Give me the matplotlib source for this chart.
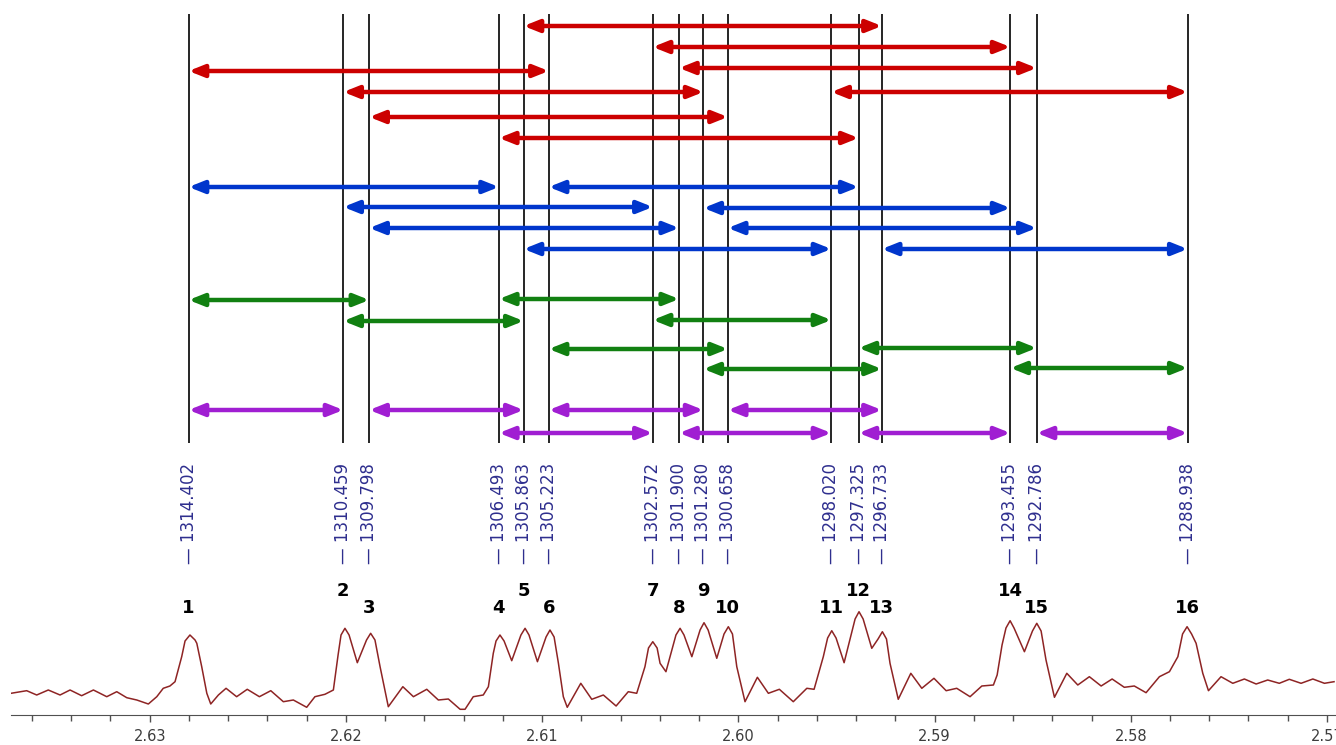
import numpy as np
import matplotlib.pyplot as plt
from matplotlib.ticker import MultipleLocator, FormatStrFormatter

# line positions (Hz) of the 16 transitions, 500 MHz spectrometer
peak_hz = [1314.402, 1310.459, 1309.798, 1306.493, 1305.863, 1305.223,
           1302.572, 1301.900, 1301.280, 1300.658, 1298.020, 1297.325,
           1296.733, 1293.455, 1292.786, 1288.938]
spec_mhz = 500.15
upper_labels = [2, 5, 7, 9, 12, 14]

# splitting arrows as (from peak, to peak), one list per coupling
red_pairs = [(5, 13), (7, 14), (8, 15), (1, 6), (2, 9), (11, 16), (3, 10), (4, 12)]
blue_pairs = [(1, 4), (6, 12), (2, 7), (9, 14), (3, 8), (10, 15), (5, 11), (13, 16)]
green_pairs = [(1, 3), (4, 8), (2, 5), (7, 11), (6, 10), (12, 15), (9, 13), (14, 16)]
purple_pairs = [(1, 2), (3, 5), (6, 9), (10, 13), (4, 7), (8, 11), (12, 14), (15, 16)]

# spectrum trace (ppm, intensity)
spec_ppm = [
    2.63707, 2.63627, 2.63576, 2.63517, 2.63457, 2.63406, 2.63347, 2.63287, 2.63219, 2.63168,
    2.63117, 2.63066, 2.63007, 2.62964, 2.62931, 2.62897, 2.62871, 2.62837, 2.62820, 2.62795,
    2.62769, 2.62760, 2.62735, 2.62709, 2.62689, 2.62650, 2.62611, 2.62557, 2.62503, 2.62441,
    2.62383, 2.62319, 2.62268, 2.62200, 2.62158, 2.62107, 2.62064, 2.62040, 2.62025, 2.62005,
    2.61984, 2.61942, 2.61895, 2.61874, 2.61852, 2.61826, 2.61784, 2.61710, 2.61656, 2.61588,
    2.61529, 2.61478, 2.61418, 2.61393, 2.61351, 2.61300, 2.61274, 2.61249, 2.61235, 2.61215,
    2.61194, 2.61155, 2.61108, 2.61087, 2.61067, 2.61024, 2.60980, 2.60960, 2.60939, 2.60917,
    2.60892, 2.60872, 2.60803, 2.60747, 2.60688, 2.60623, 2.60561, 2.60518, 2.60476, 2.60458,
    2.60436, 2.60414, 2.60399, 2.60369, 2.60318, 2.60297, 2.60277, 2.60237, 2.60195, 2.60175,
    2.60154, 2.60110, 2.60073, 2.60051, 2.60030, 2.60008, 2.59966, 2.59903, 2.59847, 2.59791,
    2.59720, 2.59651, 2.59614, 2.59567, 2.59545, 2.59524, 2.59502, 2.59461, 2.59405, 2.59385,
    2.59364, 2.59320, 2.59288, 2.59266, 2.59245, 2.59227, 2.59185, 2.59121, 2.59065, 2.59003,
    2.58941, 2.58887, 2.58819, 2.58759, 2.58700, 2.58681, 2.58656, 2.58636, 2.58615, 2.58595,
    2.58542, 2.58501, 2.58479, 2.58457, 2.58432, 2.58389, 2.58326, 2.58270, 2.58211, 2.58151,
    2.58095, 2.58033, 2.57982, 2.57922, 2.57854, 2.57803, 2.57760, 2.57736, 2.57713, 2.57690,
    2.57667, 2.57633, 2.57604, 2.57540, 2.57480, 2.57421, 2.57361, 2.57302, 2.57243, 2.57192,
    2.57132, 2.57072, 2.57013, 2.56964]
spec_int = [
    21.7, 24.3, 20, 25, 20, 25, 19.3, 25, 18.3, 23.3,
    17.3, 15, 11, 18.3, 26.7, 29, 33.3, 58.3, 74, 80,
    75, 71.7, 48.3, 21.7, 11, 20, 26.7, 18.3, 25.7, 18.3,
    24.3, 13.3, 15, 7.7, 18.3, 20.7, 25, 60, 80, 86.7,
    80, 52.3, 75, 81.7, 75, 48.3, 8.3, 28.3, 18.3, 25.7,
    15, 16, 5.7, 5.7, 18.3, 20, 28.3, 61.7, 74, 80,
    74, 54.3, 80, 86.7, 80, 53.3, 78, 85, 78, 51.7,
    18.3, 7.7, 31.7, 15.7, 20, 9, 23.3, 21.7, 48.3, 67,
    73.3, 67, 51.7, 43.3, 80, 86.7, 80, 58.3, 85, 92.3,
    85, 56.7, 81, 88.3, 81, 48.3, 13.3, 37.7, 21.7, 25.7,
    13.3, 26.7, 25.7, 58.3, 77, 84.3, 77, 52.3, 96, 103.3,
    96, 66.7, 76, 83.3, 76, 51.7, 15.7, 41.7, 26.7, 36.7,
    24.3, 26.7, 18.3, 29, 30, 40, 70, 87, 94.3, 87,
    63.3, 84, 91.7, 84, 55, 17.7, 41.7, 30, 38.3, 29,
    36, 27.7, 29, 22.3, 38.3, 43.3, 58.3, 81, 88.3, 81,
    71.7, 41.7, 24.3, 38.3, 31.7, 36, 31, 35, 31.7, 35.7,
    31.7, 36, 31.7, 33.3]

peak_ppm = np.array(peak_hz) / spec_mhz

W, H = 1336, 745
fig = plt.figure(figsize=(W / 100, H / 100), dpi=100)
left = 11 / W

# spectrum panel
ax = fig.add_axes([left, 1 - 715 / H, 1 - left, (715 - 590) / H])
ax.plot(spec_ppm, spec_int, color='#8E2424', lw=1.1)
ax.set_xlim(2.63707, 2.56954)
ax.set_ylim(0, 125)
for s in ['top', 'left', 'right']:
    ax.spines[s].set_visible(False)
ax.spines['bottom'].set_color('#505050')
ax.set_yticks([])
ax.xaxis.set_major_locator(MultipleLocator(0.01))
ax.xaxis.set_minor_locator(MultipleLocator(0.002))
ax.xaxis.set_major_formatter(FormatStrFormatter('%.2f'))
ax.tick_params(axis='x', which='major', direction='out', length=5, width=1,
               color='#505050', labelsize=10.5, labelcolor='#3C3C3C', pad=5)
ax.tick_params(axis='x', which='minor', direction='out', length=4, width=1,
               color='#505050')
ax.patch.set_alpha(0)

# overlay in pixel rows for lines, arrows and labels
axt = fig.add_axes([left, 0, 1 - left, 1], sharex=ax)
axt.set_ylim(H, 0)
axt.axis('off')
axt.patch.set_alpha(0)

axt.vlines(peak_ppm, 14, 443, color='black', lw=1.2)

for p, hz in zip(peak_ppm, peak_hz):
    axt.text(p, 564, '\u2014 %.3f' % hz, rotation=90, ha='center', va='bottom',
             color='#2E2E8E', fontsize=12)

for n, p in enumerate(peak_ppm, start=1):
    y = 591 if n in upper_labels else 608
    axt.text(p, y, str(n), ha='center', va='center', fontsize=13,
             fontweight='bold', family=['Liberation Sans Narrow', 'DejaVu Sans'])


def draw_arrows(pairs, rows, color):
    for (a, b), y in zip(pairs, rows):
        axt.annotate('', xy=(peak_ppm[b - 1], y), xytext=(peak_ppm[a - 1], y),
                     arrowprops=dict(arrowstyle='<|-|>,head_length=0.6,head_width=0.24',
                                     mutation_scale=15, color=color, lw=3.2,
                                     shrinkA=0, shrinkB=0))


draw_arrows(red_pairs, [26, 47, 68, 71, 92, 92, 117, 138], '#CC0000')
draw_arrows(blue_pairs, [187, 187, 207, 208, 228, 228, 249, 249], '#0036CC')
draw_arrows(green_pairs, [300, 299, 321, 320, 349, 348, 369, 368], '#118011')
draw_arrows(purple_pairs, [410, 410, 410, 410, 433, 433, 433, 433], '#A01ED2')

fig.savefig('out.png', dpi=100)
